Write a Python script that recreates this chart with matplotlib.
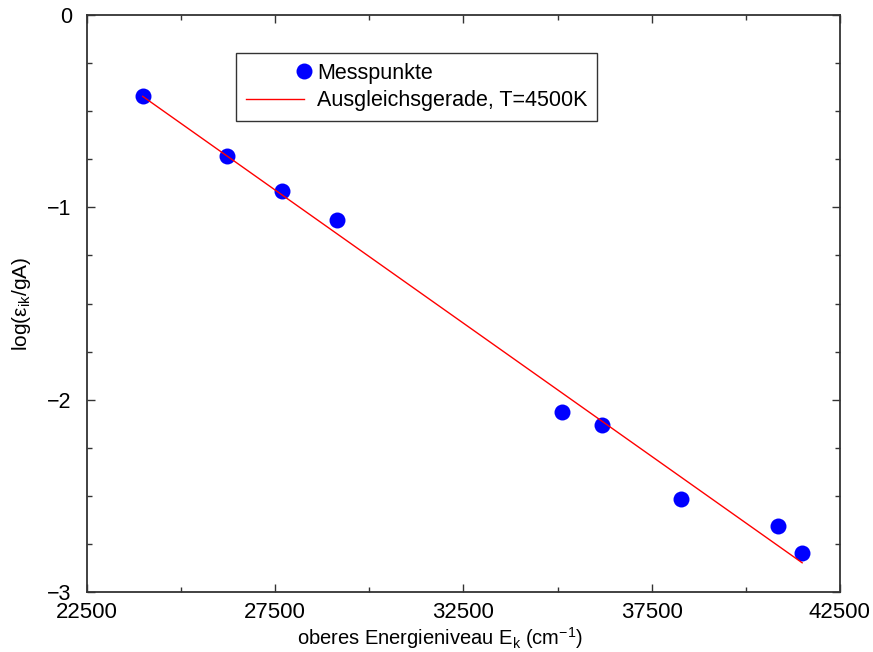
import numpy as np
import matplotlib
matplotlib.use('Agg')
import matplotlib.pyplot as plt
from matplotlib.legend_handler import HandlerLine2D
from matplotlib.ticker import MultipleLocator

plt.rcParams['font.family'] = ['Liberation Sans', 'DejaVu Sans']
plt.rcParams['mathtext.default'] = 'regular'

# Messpunkte
energie = [23979, 26226, 27671, 29140, 35116, 36171, 38269, 40861, 41499]
log_eps = [-0.423, -0.732, -0.914, -1.066, -2.064, -2.134, -2.517, -2.656, -2.796]

# Ausgleichsgerade (Endpunkte)
gerade_x = [23979, 41499]
gerade_y = [-0.423, -2.848]

x_ticks = [22500, 27500, 32500, 37500, 42500]


class MarkerRechts(HandlerLine2D):
    # Marker am rechten Ende des Legendensymbols
    def get_xdata(self, legend, xdescent, ydescent, width, height, fontsize):
        xd = np.array([-xdescent + width, -xdescent + width])
        return xd, xd[:1]


fig = plt.figure(figsize=(8.73, 6.52), dpi=100)
ax = fig.add_axes([0.0997, 0.092, 0.8623, 0.885])

punkte, = ax.plot(energie, log_eps, 'o', color='#0000ff', markersize=11.5,
                  markeredgewidth=0, label='Messpunkte')
ax.plot(gerade_x, gerade_y, '-', color='red', lw=1,
        label='Ausgleichsgerade, T=4500K')

ax.set_xlim(22500, 42500)
ax.set_ylim(-3, 0)
ax.set_xticks(x_ticks)
ax.xaxis.set_minor_locator(MultipleLocator(2500))
ax.yaxis.set_major_locator(MultipleLocator(1))
ax.yaxis.set_minor_locator(MultipleLocator(0.25))
ax.tick_params(which='both', direction='in', top=True, right=True,
               labelsize=15.5, width=1, color='#333333')
ax.tick_params(which='major', length=6)
ax.tick_params(which='minor', length=3.5)
ax.tick_params(axis='x', pad=7.5, labelsize=16)
ax.tick_params(axis='y', pad=11)
for s in ax.spines.values():
    s.set_linewidth(1.3)
    s.set_color('#333333')

ax.set_xlabel('oberes Energieniveau E$_k$ (cm$^{-1}$)', fontsize=14.5, labelpad=1)
ax.xaxis.set_label_coords(0.469, -0.058)
ax.set_ylabel('log(ε$_{ik}$/gA)', fontsize=15, labelpad=10)

leg = ax.legend(loc='upper left', bbox_to_anchor=(0.198, 0.934), fontsize=15.5,
                numpoints=1, handlelength=2.7, handletextpad=0.6,
                fancybox=False, framealpha=1, edgecolor='#333333',
                borderpad=0.45, labelspacing=0.3, borderaxespad=0,
                handler_map={punkte: MarkerRechts()})
leg.get_frame().set_linewidth(1)

fig.savefig('out.png', dpi=100)
